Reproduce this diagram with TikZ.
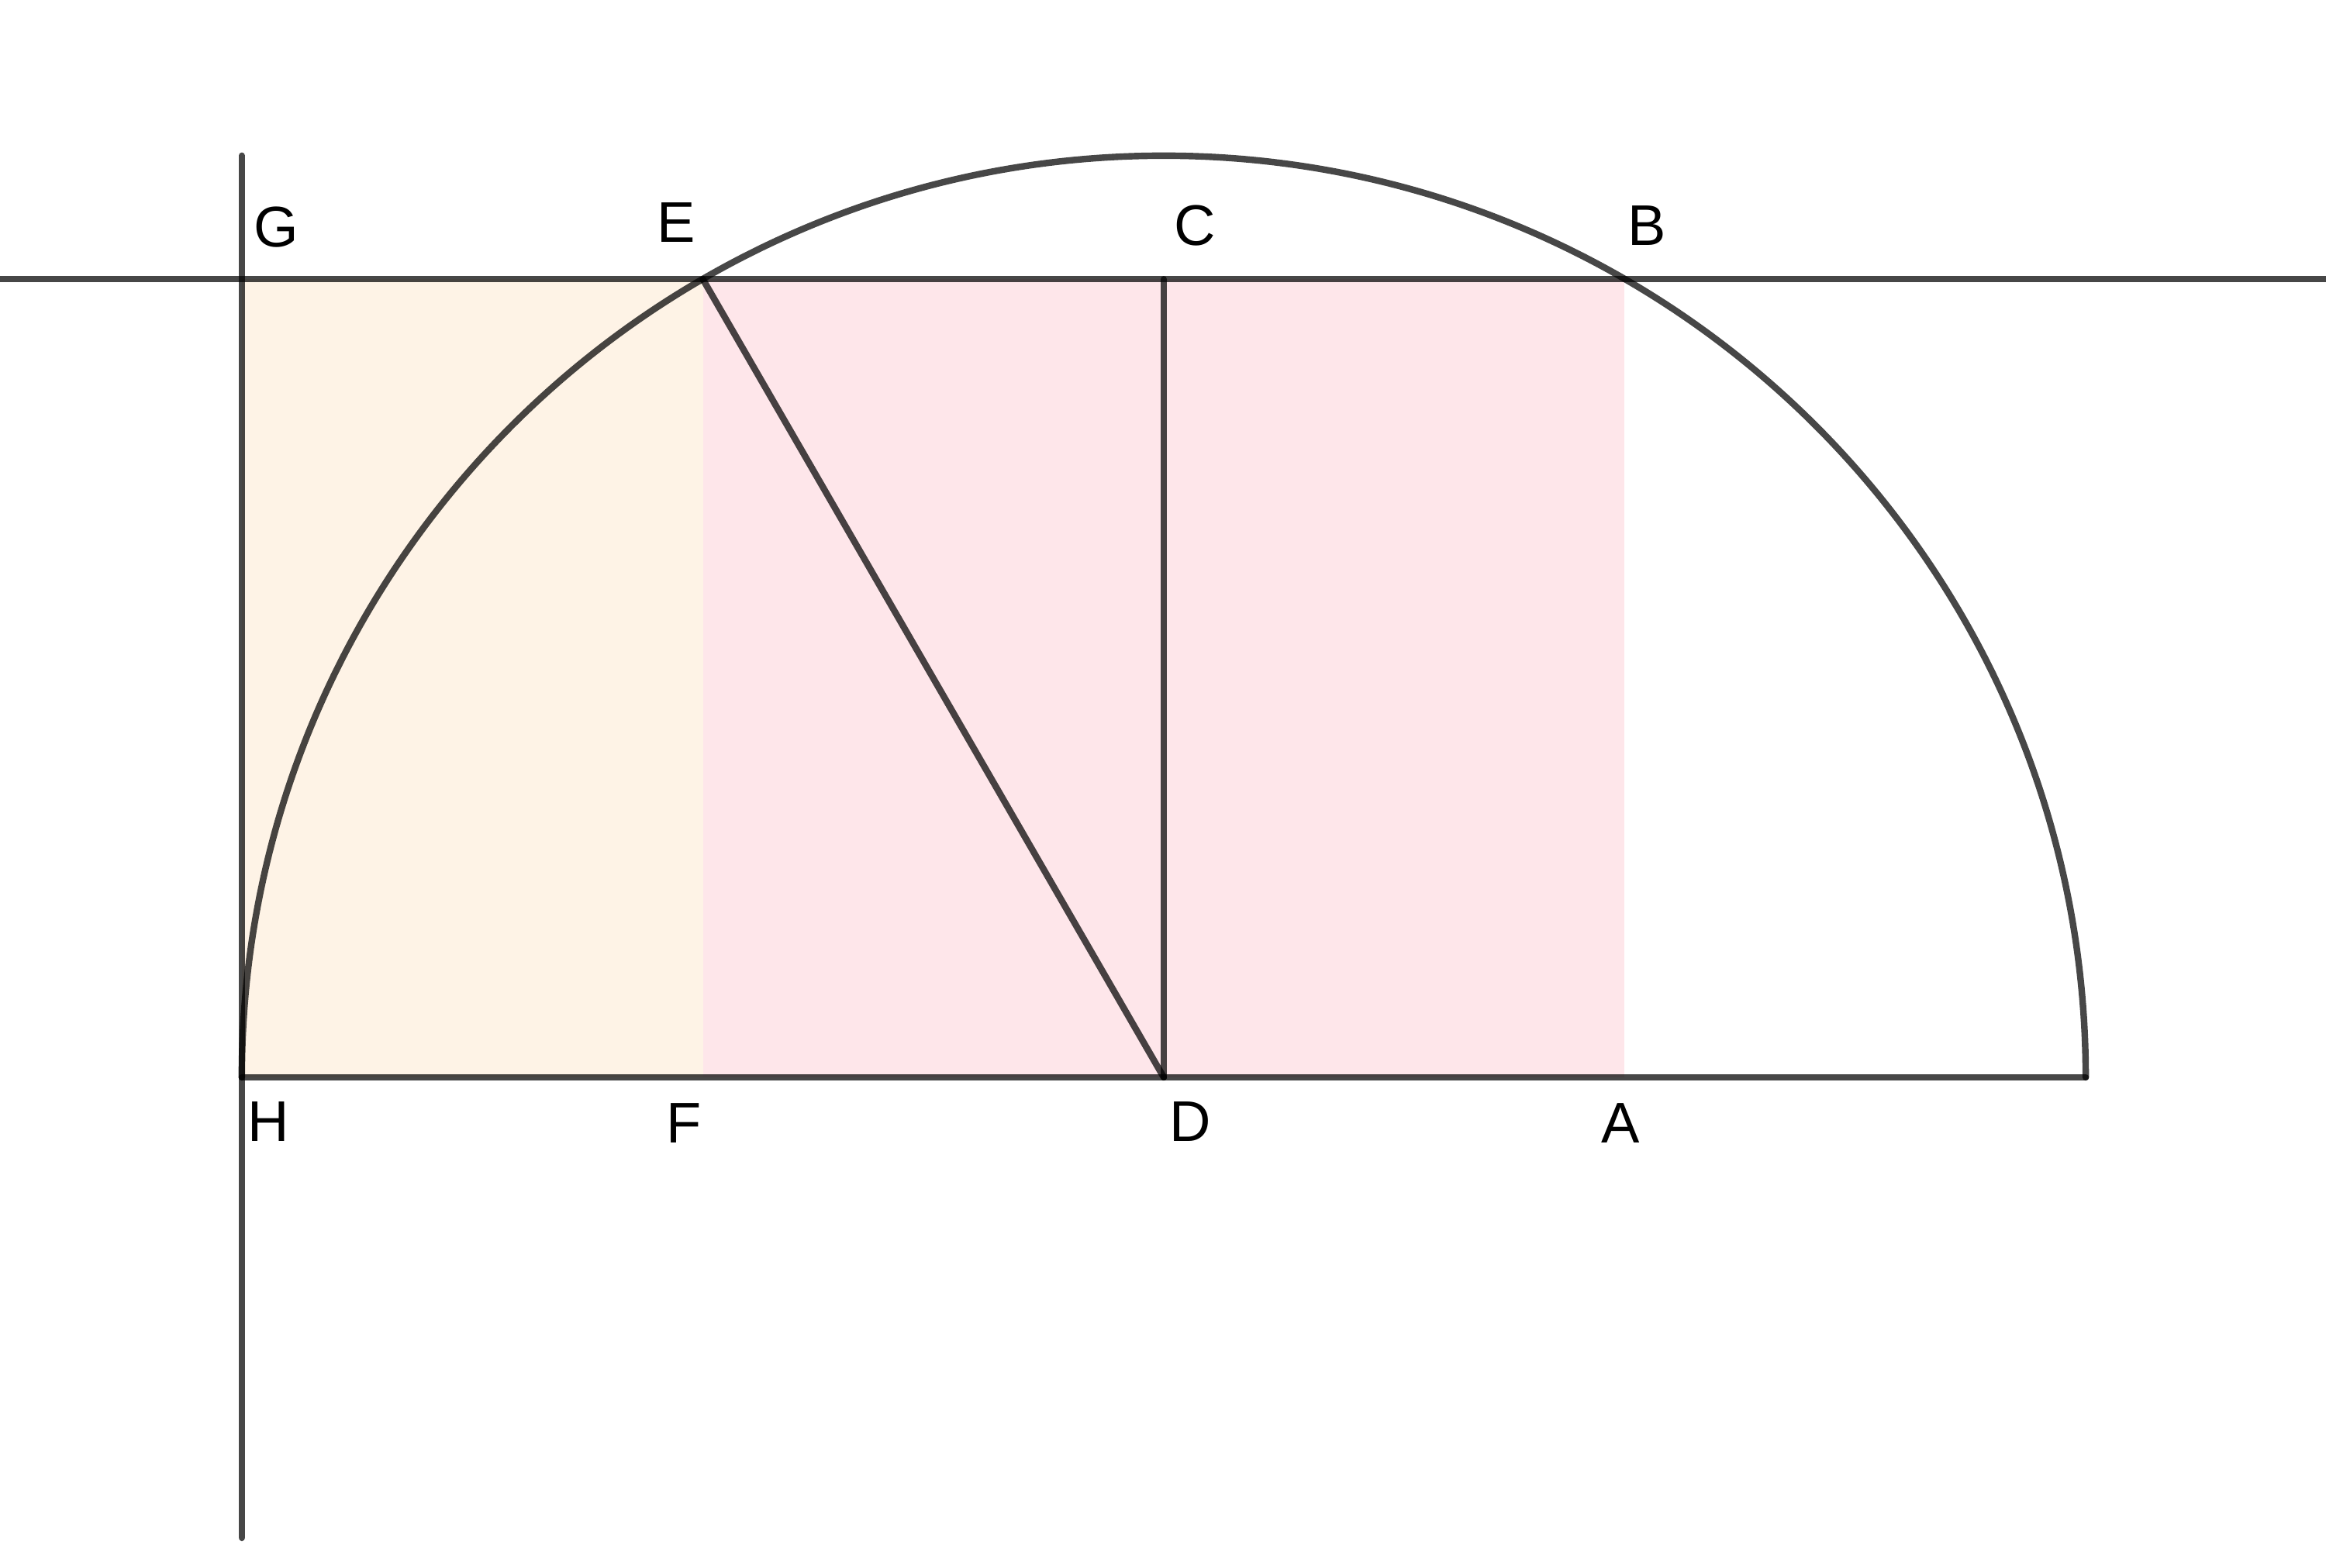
\documentclass[tikz,border=0pt]{standalone}
\usepackage{fontspec}
\setmainfont{Liberation Sans}
\usetikzlibrary{positioning}

\definecolor{peach}{HTML}{FEF3E6}
\definecolor{blush}{HTML}{FEE6EA}

\begin{document}
\begin{tikzpicture}[
    seg/.style={
        draw=black,
        draw opacity=0.72,
        line width=1.25pt,
        line cap=round
    },
    lbl/.style={
        inner sep=0pt,
        font=\fontsize{11}{13}\selectfont
    }
]
\useasboundingbox (0,0) rectangle (15.68,10.57);

% points
\coordinate (D) at (7.845,3.305);
\coordinate (H) at (1.63,3.305);
\coordinate (F) at (4.738,3.305);
\coordinate (A) at (10.952,3.305);
\coordinate (R) at (14.06,3.305);
\coordinate (G) at (1.63,8.687);
\coordinate (E) at (4.738,8.687);
\coordinate (C) at (7.845,8.687);
\coordinate (B) at (10.952,8.687);
\coordinate (lineL) at (0,8.687);
\coordinate (lineR) at (15.68,8.687);
\coordinate (vTop) at (1.63,9.52);
\coordinate (vBot) at (1.63,0.20);

% shaded rectangles
\fill[peach] (H) rectangle (E);
\fill[blush] (F) rectangle (B);

% lines
\draw[seg] (lineL) -- (lineR);
\draw[seg] (vTop) -- (vBot);
\draw[seg] (H) -- (R);
\draw[seg] (R) arc[start angle=0, end angle=180, radius=6.215];
\draw[seg] (E) -- (D);
\draw[seg] (C) -- (D);

% labels
\node[lbl] (labG) at ([shift={(0.23,0.35)}]G) {G};
\node[lbl] (labE) at ([shift={(-0.18,0.38)}]E) {E};
\node[lbl] (labC) at ([shift={(0.21,0.36)}]C) {C};
\node[lbl] (labB) at ([shift={(0.15,0.36)}]B) {B};
\node[lbl] (labH) at ([shift={(0.18,-0.30)}]H) {H};
\node[lbl] (labF) at ([shift={(-0.13,-0.31)}]F) {F};
\node[lbl] (labD) at ([shift={(0.18,-0.30)}]D) {D};
\node[lbl] (labA) at ([shift={(-0.03,-0.31)}]A) {A};

\end{tikzpicture}
\end{document}
